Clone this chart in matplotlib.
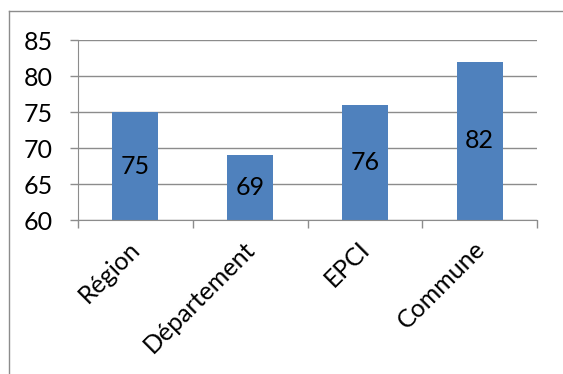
import matplotlib
matplotlib.use("Agg")
from matplotlib import pyplot as plt
from matplotlib.lines import Line2D

categories = ["Région", "Département", "EPCI", "Commune"]
values = [75, 69, 76, 82]
y_ticks = [60, 65, 70, 75, 80, 85]

plt.rcParams['font.family'] = ['Lato', 'DejaVu Sans']
grey = '#8c8c8c'

fig = plt.figure(figsize=(5.63, 3.74), dpi=100)
ax = fig.add_axes([78 / 563, 1 - 220 / 374, (537 - 78) / 563, 180 / 374])

x = range(len(categories))
bars = ax.bar(x, values, width=0.4, color='#4F81BD', bottom=0)
ax.set_ylim(60, 85)
ax.set_xlim(-0.5, len(categories) - 0.5)
ax.set_yticks(y_ticks)
ax.tick_params(axis='y', labelsize=18, length=6, color=grey, width=1, pad=12)

# category boundary ticks like Excel
ax.set_xticks([i - 0.5 for i in range(len(categories) + 1)])
ax.set_xticklabels([])
ax.tick_params(axis='x', length=6, color=grey, width=1)
for i, c in enumerate(categories):
    ax.text(i - 0.06, 57.6, c, rotation=45, ha='right', va='top',
            fontsize=18, rotation_mode='anchor')

ax.bar_label(bars, labels=[str(v) for v in values], label_type='center', fontsize=18)

ax.grid(axis='y', color=grey, linewidth=1)
ax.set_axisbelow(True)
for s in ['top', 'right']:
    ax.spines[s].set_visible(False)
for s in ['left', 'bottom']:
    ax.spines[s].set_color(grey)

# outer chart border
fig.add_artist(Line2D([9 / 563, 9 / 563], [0, 1 - 11 / 374], color=grey, lw=1))
fig.add_artist(Line2D([9 / 563, 1], [1 - 11 / 374, 1 - 11 / 374], color=grey, lw=1))

fig.savefig('out.png', dpi=100)
